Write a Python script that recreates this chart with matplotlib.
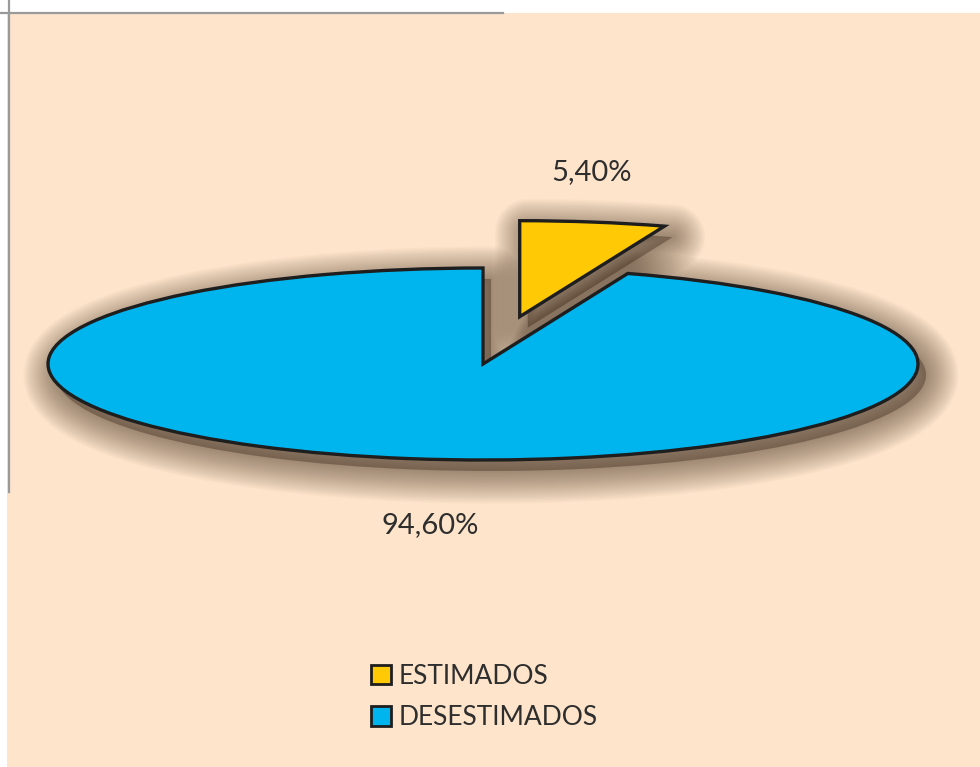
import matplotlib.pyplot as plt
from matplotlib.lines import Line2D
from matplotlib.patches import Rectangle

# data
labels = ["ESTIMADOS", "DESESTIMADOS"]
values = [5.4, 94.6]
pct_text = ["5,40%", "94,60%"]
colors = ["#FFC906", "#00B5EE"]
explode = [0.5, 0.0]

W, H = 980, 767
fig = plt.figure(figsize=(W / 100, H / 100), dpi=100, facecolor="white")

# peach panel and the thin gray frame lines
fig.add_artist(Rectangle((7 / W, 0), 1, (H - 13) / H, transform=fig.transFigure,
                         facecolor="#FDE4CA", edgecolor="none", zorder=0))
fig.add_artist(Line2D([0, 503 / W], [(H - 13) / H] * 2, transform=fig.transFigure,
                      color="#9a9a9a", lw=1.6))
fig.add_artist(Line2D([9 / W] * 2, [1, (H - 492) / H], transform=fig.transFigure,
                      color="#9a9a9a", lw=1.6))

ax = fig.add_axes([0, 0, 1, 1])
ax.set_facecolor("none")
ax.axis("off")

# ellipse: half-width 435 px, half-height 96 px, centre (483, 364) from top-left
a, b, cx, cy = 435.0, 96.0, 483.0, 364.0

# soft drop shadow: stacked translucent strokes of growing width
sx, sy = 8 / a, -11 / b
ax.pie(values, explode=explode, startangle=90, counterclock=False,
       center=(sx, sy), wedgeprops=dict(facecolor="#5a4838", edgecolor="none",
                                         alpha=0.45))
for k in range(24):
    ax.pie(values, explode=explode, startangle=90, counterclock=False,
           center=(sx, sy),
           wedgeprops=dict(facecolor="none", edgecolor="#3a2818",
                           linewidth=1 + k * 2.0, alpha=0.022, joinstyle="round"))

wedges, _ = ax.pie(values, explode=explode, colors=colors, startangle=90,
                   counterclock=False,
                   wedgeprops=dict(edgecolor="#1e1e1e", linewidth=2.4,
                                   joinstyle="miter"))

ax.set_aspect("auto")
ax.set_xlim(-cx / a, (W - cx) / a)
ax.set_ylim(-(H - cy) / b, cy / b)

ax.text((592 - cx) / a, (cy - 172) / b, pct_text[0], ha="center", va="center",
        fontsize=21, color="#2e2e2e", family="Lato")
ax.text((430 - cx) / a, (cy - 525) / b, pct_text[1], ha="center", va="center",
        fontsize=21, color="#2e2e2e", family="Lato")

leg = fig.legend(wedges, labels, loc="upper left", bbox_to_anchor=(371 / W, 1 - 664 / H),
                 frameon=False, handlelength=0.75, handleheight=0.75, handletextpad=0.3,
                 labelspacing=0.62, borderpad=0, borderaxespad=0,
                 prop=dict(family="Lato", size=19))
for t in leg.get_texts():
    t.set_color("#2e2e2e")
for h in leg.legend_handles:
    h.set_linewidth(2)

fig.savefig("out.png", dpi=100, facecolor="white")
